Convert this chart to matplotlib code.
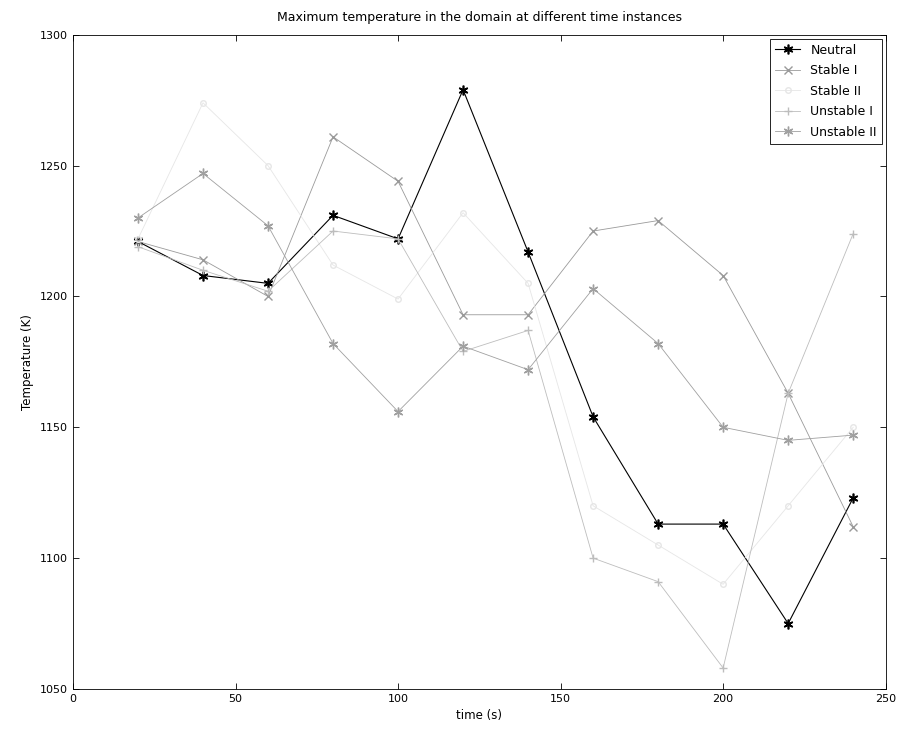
import numpy as np
import matplotlib
matplotlib.use('Agg')
import matplotlib.pyplot as plt

# time instances (s)
time_s = [20, 40, 60, 80, 100, 120, 140, 160, 180, 200, 220, 240]

# maximum temperature (K) per case
neutral = [1221, 1208, 1205, 1231, 1222, 1279, 1217, 1154, 1113, 1113, 1075, 1123]
stable_1 = [1221, 1214, 1200, 1261, 1244, 1193, 1193, 1225, 1229, 1208, 1163, 1112]
stable_2 = [1222, 1274, 1250, 1212, 1199, 1232, 1205, 1120, 1105, 1090, 1120, 1150]
unstable_1 = [1219, 1210, 1202, 1225, 1222, 1179, 1187, 1100, 1091, 1058, 1163, 1224]
unstable_2 = [1230, 1247, 1227, 1182, 1156, 1181, 1172, 1203, 1182, 1150, 1145, 1147]

labels = ['Neutral', 'Stable I', 'Stable II', 'Unstable I', 'Unstable II']

# matlab style asterisk marker
aster = (6, 2, 0)

fig = plt.figure(figsize=(9.01, 7.40), dpi=100)
ax = fig.add_axes([0.081, 0.069, 0.902, 0.884])

ax.plot(time_s, neutral, '-', marker=aster, color='black', lw=0.8, ms=7,
        mew=1.2, label=labels[0])
ax.plot(time_s, stable_1, '-x', color='#9a9a9a', lw=0.6, ms=6, label=labels[1])
ax.plot(time_s, stable_2, '-o', color='#e6e6e6', lw=0.6, ms=4, mfc='none',
        label=labels[2])
ax.plot(time_s, unstable_1, '-+', color='#bdbdbd', lw=0.6, ms=6, label=labels[3])
ax.plot(time_s, unstable_2, '-', marker=aster, color='#a0a0a0', lw=0.6, ms=7,
        label=labels[4])

ax.set_xlim(0, 250)
ax.set_ylim(1050, 1300)
ax.set_xticks(np.arange(0, 251, 50))
ax.set_yticks(np.arange(1050, 1301, 50))
ax.tick_params(direction='in', top=True, right=True, labelsize=8, length=4,
               width=0.6)
for s in ax.spines.values():
    s.set_linewidth(0.6)

ax.set_title('Maximum temperature in the domain at different time instances',
             fontsize=9, pad=10)
ax.set_xlabel('time (s)', fontsize=8.5)
ax.set_ylabel('Temperature (K)', fontsize=8.5)

leg = ax.legend(loc='upper right', fontsize=9, fancybox=False,
                edgecolor='black', framealpha=1, borderaxespad=0.3,
                handlelength=2.0, labelspacing=0.6)
leg.get_frame().set_linewidth(0.6)

fig.savefig('out.png', dpi=100)
